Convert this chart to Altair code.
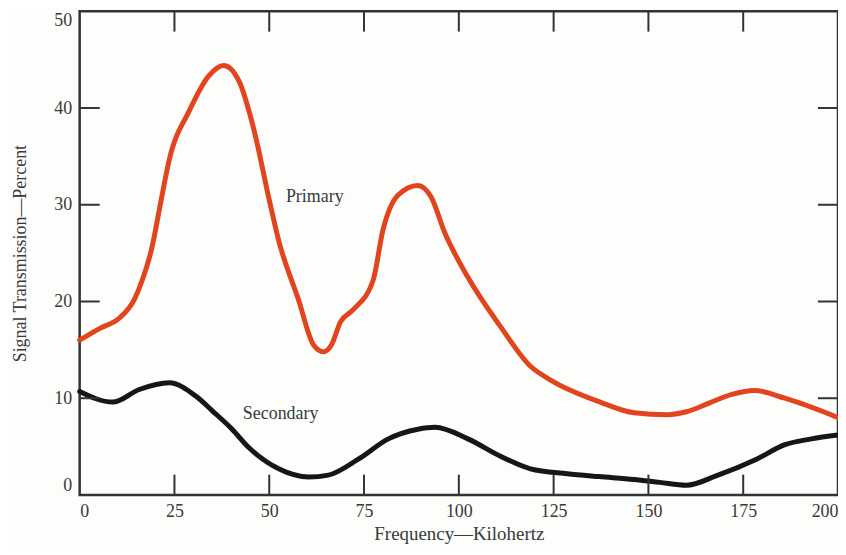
import altair as alt
import pandas as pd

# Primary curve (kHz, percent)
p_x = [0, 5.2, 10.5, 14.4, 16.5, 18.9, 21.5, 23.6, 28.9, 34, 38, 42, 46, 50, 52.5, 57.7, 61.7, 64.3, 66.4, 68.8,
       72, 77.4, 80, 84, 89.2, 92.7, 96.3, 102.4, 111, 118.9, 124.1, 137.3, 146.2, 154.9, 160, 166, 172, 178, 186, 200]
p_y = [16.0, 17.2, 18.3, 20.2, 22.2, 25.3, 30.5, 34.6, 39.7, 43.3, 44.4, 42.8, 37.7, 30.5, 26.3, 20.2, 15.5, 14.8, 15.5, 17.9,
       19.1, 22.2, 27.4, 31.0, 32.0, 30.8, 27.1, 22.5, 17.4, 13.3, 11.9, 9.6, 8.5, 8.3, 8.6, 9.5, 10.4, 10.8, 10.0, 8.0]

# Secondary curve
s_x = [0, 8.7, 15.7, 23.6, 30.7, 35, 40.2, 44.6, 52.5, 60.4, 65.6, 73.5, 81.4, 89.2, 93.7, 102.4, 111, 118.9, 128.6, 137,
       146.2, 153, 160, 168, 178.5, 186, 193, 200]
s_y = [10.7, 9.6, 10.9, 11.6, 10.2, 8.7, 6.8, 4.9, 2.7, 1.85, 2.05, 3.7, 5.8, 6.8, 7.0, 5.8, 4.0, 2.7, 2.2, 1.9,
       1.6, 1.3, 1.0, 2.0, 3.7, 5.2, 5.8, 6.2]

x_ticks = [0, 25, 50, 75, 100, 125, 150, 175, 200]
y_ticks = [0, 10, 20, 30, 40, 50]

labels = ["Primary", "Secondary"]
label_x = [62, 53]
label_y = [30.8, 8.4]

W, H = 762, 486
FONT = "Liberation Serif"
INK = "#2e3433"
TXT = "#353b3a"

df = pd.concat([
    pd.DataFrame({"f": p_x, "v": p_y, "s": "Primary"}),
    pd.DataFrame({"f": s_x, "v": s_y, "s": "Secondary"}),
])
inner_x = x_ticks[1:-1]
inner_y = y_ticks[1:-1]
# inward tick marks on all four sides of the frame (in data units)
xt = pd.DataFrame({
    "t": inner_x + inner_x,
    "a": [0.05] * len(inner_x) + [50] * len(inner_x),
    "b": [2.1] * len(inner_x) + [47.9] * len(inner_x),
})
yt = pd.DataFrame({
    "t": inner_y + inner_y,
    "a": [0.05] * len(inner_y) + [200] * len(inner_y),
    "b": [5.3] * len(inner_y) + [194.7] * len(inner_y),
})
lab = pd.DataFrame({"name": labels, "f": label_x, "v": label_y})

xs = alt.Scale(domain=[0, 200], nice=False, zero=False)
ys = alt.Scale(domain=[0, 50], nice=False, zero=False)

lines = alt.Chart(df).mark_line(interpolate="monotone", strokeWidth=5, strokeCap="round").encode(
    x=alt.X("f:Q", scale=xs, axis=alt.Axis(values=x_ticks, title="Frequency\u2014Kilohertz", tickSize=0, domain=False,
                                          grid=False, labelPadding=8, titlePadding=4, labelFlush=True)),
    y=alt.Y("v:Q", scale=ys, axis=alt.Axis(values=y_ticks, title="Signal Transmission\u2014Percent", tickSize=0,
                                          domain=False, grid=False, labelPadding=8, titlePadding=24, labelFlush=True,
                                          titleFontSize=18)),
    color=alt.Color("s:N", scale=alt.Scale(domain=["Primary", "Secondary"], range=["#e2441e", "#141617"]), legend=None),
    detail="s:N",
)

xtick = alt.Chart(xt).mark_rule(color=INK, strokeWidth=2).encode(
    x=alt.X("t:Q", scale=xs), y=alt.Y("a:Q", scale=ys), y2="b:Q")
ytick = alt.Chart(yt).mark_rule(color=INK, strokeWidth=2).encode(
    y=alt.Y("t:Q", scale=ys), x=alt.X("a:Q", scale=xs), x2="b:Q")

texts = alt.Chart(lab).mark_text(font=FONT, fontSize=18, color=TXT, align="center", baseline="middle").encode(
    x=alt.X("f:Q", scale=xs), y=alt.Y("v:Q", scale=ys), text="name:N")

chart = alt.layer(lines, xtick, ytick, texts).properties(
    width=W, height=H,
    autosize=alt.AutoSizeParams(type="none"),
    padding={"left": 72, "top": 2, "right": 0, "bottom": 56},
    background="#fdfdfb",
).configure_view(
    stroke=INK, strokeWidth=2.5
).configure_axis(
    labelFont=FONT, labelFontSize=18, labelColor=TXT,
    titleFont=FONT, titleFontSize=19, titleFontWeight="normal", titleColor=TXT,
)

chart.save("out.html", embed_options={"renderer": "svg", "actions": False})
